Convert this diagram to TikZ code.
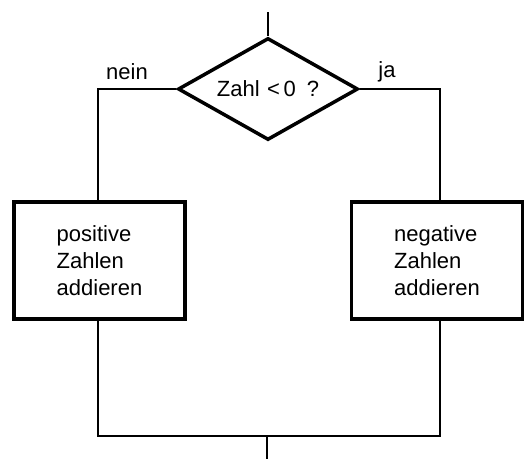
\documentclass[tikz,border=0pt]{standalone}
\usepackage{fontspec}
\setmainfont{Liberation Sans}
\usetikzlibrary{shapes.geometric,positioning}

\begin{document}
\begin{tikzpicture}
    [x=1pt, y=-1pt,
    flow/.style={line width=2pt},
    decision/.style={diamond, draw, line width=3.5pt, aspect=1.76, minimum width=180pt, minimum height=102pt, inner sep=0pt},
    action/.style={rectangle, draw, line width=3.5pt, minimum width=171pt, minimum height=117pt, align=left, font=\fontsize{22}{27}\selectfont},
    lbl/.style={font=\fontsize{22}{24}\selectfont}]
        \useasboundingbox (0,0) rectangle (525,459);
        %% Abfrage
        \node[decision, font=\fontsize{22}{24}\selectfont] (Q) at (268,89) {Zahl\,\,<\,0\,\,\,?};
        \node[action] (P) at (99.5,260.5) {positive\\Zahlen\\addieren};
        \node[action] (N) at (437,260.5) {negative\\Zahlen\\addieren};
        \node[lbl] (nein) at (127,72) {nein};
        \node[lbl] (ja) at (387,72) {ja};

        \coordinate (top) at (268,12);
        \coordinate (L) at (98,89);
        \coordinate (R) at (440,89);
        \coordinate (LB) at (98,436);
        \coordinate (RB) at (440,436);
        \coordinate (M) at (267,436);
        \coordinate (end) at (267,459);

        \draw[flow] (top) -- (Q.north);
        \draw[flow] (Q.west) -- (L) -- (L |- P.north);
        \draw[flow] (Q.east) -- (R) -- (R |- N.north);
        \draw[flow] (L |- P.south) -- (LB) -- (RB) -- (R |- N.south);
        \draw[flow] (M) -- (end);
    \end{tikzpicture}
\end{document}
